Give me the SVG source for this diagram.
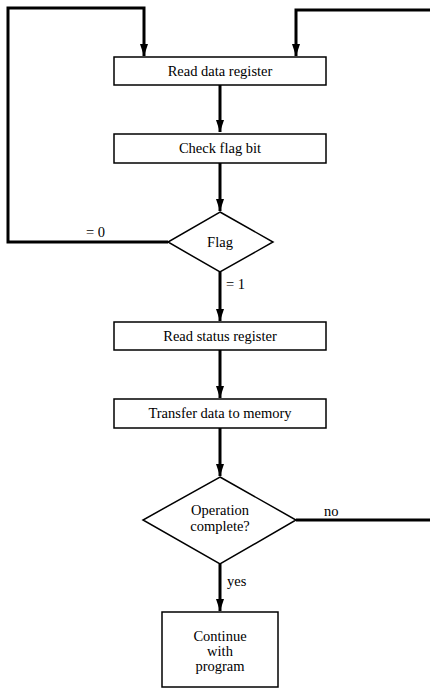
<svg xmlns="http://www.w3.org/2000/svg" width="430" height="689" viewBox="0 0 430 689">
<style>
.box{fill:#fff;stroke:#000;stroke-width:1.5}
.c{fill:none;stroke:#000;stroke-width:3}
text{font-family:"Liberation Serif","Times New Roman",serif;font-size:14.5px;fill:#000}
.m{text-anchor:middle}
</style>
<defs>
<marker id="a" markerUnits="userSpaceOnUse" markerWidth="12" markerHeight="8" viewBox="0 0 12 8" refX="12" refY="4" orient="auto">
<path d="M0,0 L12,4 L0,8 Z" fill="#000"/>
</marker>
</defs>
<g id="connectors">
<path class="c" d="M168,242 H8 V8 H144 V56" marker-end="url(#a)"/>
<path class="c" d="M296,520 H440 V10 H296 V56" marker-end="url(#a)"/>
<path class="c" d="M220,85 V132" marker-end="url(#a)"/>
<path class="c" d="M220,163 V211" marker-end="url(#a)"/>
<path class="c" d="M220,272 V321" marker-end="url(#a)"/>
<path class="c" d="M220,350 V398" marker-end="url(#a)"/>
<path class="c" d="M220,428 V476" marker-end="url(#a)"/>
<path class="c" d="M220,564 V611" marker-end="url(#a)"/>
<text x="86" y="237">= 0</text>
<text x="226" y="289">= 1</text>
<text x="324" y="516">no</text>
<text x="227" y="586">yes</text>
</g>
<g id="read-data">
<rect class="box" x="114" y="57" width="212" height="28"/>
<text class="m" x="220" y="76">Read data register</text>
</g>
<g id="check-flag">
<rect class="box" x="114" y="134" width="212" height="29"/>
<text class="m" x="220" y="153">Check flag bit</text>
</g>
<g id="flag">
<polygon class="box" points="220,212 273,242 220,272 168,242"/>
<text class="m" x="220" y="247">Flag</text>
</g>
<g id="read-status">
<rect class="box" x="114" y="322" width="212" height="28"/>
<text class="m" x="220" y="341">Read status register</text>
</g>
<g id="transfer">
<rect class="box" x="114" y="399" width="212" height="29"/>
<text class="m" x="220" y="418">Transfer data to memory</text>
</g>
<g id="operation-complete">
<polygon class="box" points="220,477 296,520 220,564 143,520"/>
<text class="m" x="220" y="515">Operation</text>
<text class="m" x="220" y="531">complete?</text>
</g>
<g id="continue">
<rect class="box" x="162" y="612" width="116" height="75"/>
<text class="m" x="220" y="641">Continue</text>
<text class="m" x="220" y="656">with</text>
<text class="m" x="220" y="671">program</text>
</g>
</svg>
